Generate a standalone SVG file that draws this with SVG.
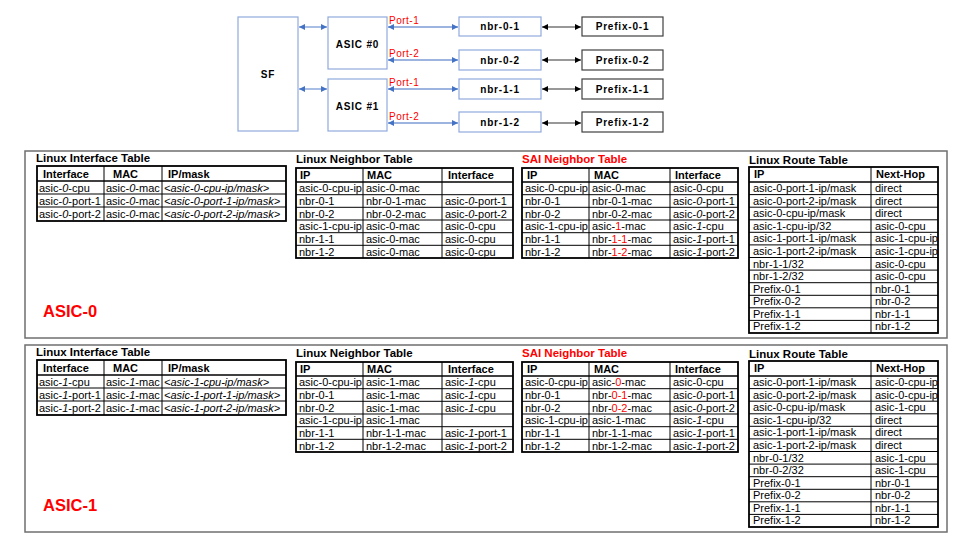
<svg xmlns="http://www.w3.org/2000/svg" width="960" height="540" viewBox="0 0 960 540">
<style>
text{font-family:"Liberation Sans",Arial,sans-serif;fill:#000}
.t{font-size:11px}
.h{font-size:11px;font-weight:bold}
.ttl{font-size:11.5px;font-weight:bold}
.i{font-style:italic}
.r{fill:#f00}
.nb{fill:#fff;stroke:#8FAADC;stroke-width:1.2}
.pb{fill:#fff;stroke:#404040;stroke-width:1.2}
.nl{font-size:10px;font-weight:bold;letter-spacing:0.8px;text-anchor:middle}
.port{font-size:10px;fill:#f00;letter-spacing:0.5px}
.bl{stroke:#7B9BD5;stroke-width:1.3;marker-start:url(#ab);marker-end:url(#ab)}
.kl{stroke:#333;stroke-width:1.2;marker-start:url(#ak);marker-end:url(#ak)}
.panel{fill:none;stroke:#6f6f6f;stroke-width:1.5}
.outer{fill:none;stroke:#000;stroke-width:1.8}
.g{stroke:#000;stroke-width:1}
.gh{stroke:#000;stroke-width:1.6}
.big{font-size:16.5px;font-weight:bold;fill:#f00}
</style>
<defs>
<marker id="ab" viewBox="0 0 10 10" refX="10" refY="5" markerWidth="7" markerHeight="6" markerUnits="userSpaceOnUse" orient="auto-start-reverse"><path d="M0,0 L10,5 L0,10 z" fill="#4472C4"/></marker>
<marker id="ak" viewBox="0 0 10 10" refX="10" refY="5" markerWidth="7" markerHeight="6" markerUnits="userSpaceOnUse" orient="auto-start-reverse"><path d="M0,0 L10,5 L0,10 z" fill="#000"/></marker>
</defs>
<rect width="960" height="540" fill="#fff"/>

<g id="connectors">
<line class="bl" x1="299" y1="27" x2="327" y2="27"/>
<line class="bl" x1="299" y1="89" x2="327" y2="89"/>
<line class="bl" x1="388" y1="27" x2="458" y2="27"/>
<line class="bl" x1="388" y1="60" x2="458" y2="60"/>
<line class="bl" x1="388" y1="89" x2="458" y2="89"/>
<line class="bl" x1="388" y1="123" x2="458" y2="123"/>
<line class="kl" x1="542" y1="27" x2="581" y2="27"/>
<line class="kl" x1="542" y1="60" x2="581" y2="60"/>
<line class="kl" x1="542" y1="89" x2="581" y2="89"/>
<line class="kl" x1="542" y1="123" x2="581" y2="123"/>
<text class="port" x="389" y="24">Port-1</text>
<text class="port" x="389" y="57">Port-2</text>
<text class="port" x="389" y="86">Port-1</text>
<text class="port" x="389" y="120">Port-2</text>
</g>

<g id="sf"><rect class="nb" x="238" y="17" width="60" height="114"/><text class="nl" x="268" y="78">SF</text></g>
<g id="asic0"><rect class="nb" x="328" y="17" width="59" height="52"/><text class="nl" x="357.5" y="48">ASIC #0</text></g>
<g id="asic1"><rect class="nb" x="328" y="79" width="59" height="52"/><text class="nl" x="357.5" y="110">ASIC #1</text></g>
<g id="nbr01"><rect class="nb" x="459" y="17" width="82" height="19"/><text class="nl" x="500" y="30">nbr-0-1</text></g>
<g id="nbr02"><rect class="nb" x="459" y="50" width="82" height="20"/><text class="nl" x="500" y="63.5">nbr-0-2</text></g>
<g id="nbr11"><rect class="nb" x="459" y="79" width="82" height="20"/><text class="nl" x="500" y="92.5">nbr-1-1</text></g>
<g id="nbr12"><rect class="nb" x="459" y="112" width="82" height="20"/><text class="nl" x="500" y="125.5">nbr-1-2</text></g>
<g id="prefix01"><rect class="pb" x="582" y="17" width="81" height="19"/><text class="nl" x="622.5" y="30">Prefix-0-1</text></g>
<g id="prefix02"><rect class="pb" x="582" y="50" width="81" height="20"/><text class="nl" x="622.5" y="63.5">Prefix-0-2</text></g>
<g id="prefix11"><rect class="pb" x="582" y="79" width="81" height="20"/><text class="nl" x="622.5" y="92.5">Prefix-1-1</text></g>
<g id="prefix12"><rect class="pb" x="582" y="112" width="81" height="20"/><text class="nl" x="622.5" y="125.5">Prefix-1-2</text></g>

<!-- ASIC-0 panel -->
<g id="panel-asic0">
<rect class="panel" x="25" y="151" width="922" height="187"/>
<text class="big" x="43" y="317">ASIC-0</text>

<g id="a0-if">
<text class="ttl" x="36" y="162">Linux Interface Table</text>
<rect class="outer" x="37" y="166" width="249" height="55"/>
<line class="gh" x1="37" y1="181" x2="286" y2="181"/>
<line class="g" x1="37" y1="194" x2="286" y2="194"/>
<line class="g" x1="37" y1="207" x2="286" y2="207"/>
<line class="g" x1="104" y1="166" x2="104" y2="221"/>
<line class="g" x1="162" y1="166" x2="162" y2="221"/>
<text class="h" x="43" y="177.5">Interface</text><text class="h" x="113" y="177.5">MAC</text><text class="h" x="168" y="177.5">IP/mask</text>
<text class="t" x="39" y="191.5">asic-<tspan class="i">0</tspan>-cpu</text><text class="t" x="106" y="191.5">asic-<tspan class="i">0</tspan>-mac</text><text class="t i" x="164" y="191.5">&lt;asic-0-cpu-ip/mask&gt;</text>
<text class="t" x="39" y="204.5">asic-<tspan class="i">0</tspan>-port-1</text><text class="t" x="106" y="204.5">asic-<tspan class="i">0</tspan>-mac</text><text class="t i" x="164" y="204.5">&lt;asic-0-port-1-ip/mask&gt;</text>
<text class="t" x="39" y="217.5">asic-<tspan class="i">0</tspan>-port-2</text><text class="t" x="106" y="217.5">asic-<tspan class="i">0</tspan>-mac</text><text class="t i" x="164" y="217.5">&lt;asic-0-port-2-ip/mask&gt;</text>
</g>

<g id="a0-nbr">
<text class="ttl" x="296" y="163">Linux Neighbor Table</text>
<rect class="outer" x="296" y="168" width="217" height="90"/>
<line class="gh" x1="296" y1="182" x2="513" y2="182"/>
<line class="g" x1="296" y1="194.7" x2="513" y2="194.7"/>
<line class="g" x1="296" y1="207.3" x2="513" y2="207.3"/>
<line class="g" x1="296" y1="220" x2="513" y2="220"/>
<line class="g" x1="296" y1="232.7" x2="513" y2="232.7"/>
<line class="g" x1="296" y1="245.3" x2="513" y2="245.3"/>
<line class="g" x1="363" y1="168" x2="363" y2="258"/>
<line class="g" x1="442" y1="168" x2="442" y2="258"/>
<text class="h" x="300" y="179">IP</text><text class="h" x="367" y="179">MAC</text><text class="h" x="448" y="179">Interface</text>
<text class="t" x="299" y="192">asic-0-cpu-ip</text><text class="t" x="366" y="192">asic-0-mac</text>
<text class="t" x="299" y="205">nbr-0-1</text><text class="t" x="366" y="205">nbr-0-1-mac</text><text class="t" x="445" y="205">asic-<tspan class="i">0</tspan>-port-1</text>
<text class="t" x="299" y="217.5">nbr-0-2</text><text class="t" x="366" y="217.5">nbr-0-2-mac</text><text class="t" x="445" y="217.5">asic-<tspan class="i">0</tspan>-port-2</text>
<text class="t" x="299" y="230">asic-1-cpu-ip</text><text class="t" x="366" y="230">asic-0-mac</text><text class="t" x="445" y="230">asic-0-cpu</text>
<text class="t" x="299" y="243">nbr-1-1</text><text class="t" x="366" y="243">asic-0-mac</text><text class="t" x="445" y="243">asic-0-cpu</text>
<text class="t" x="299" y="255.5">nbr-1-2</text><text class="t" x="366" y="255.5">asic-0-mac</text><text class="t" x="445" y="255.5">asic-0-cpu</text>
</g>

<g id="a0-sai">
<text class="ttl r" x="522" y="163">SAI Neighbor Table</text>
<rect class="outer" x="522" y="168" width="216" height="90"/>
<line class="gh" x1="522" y1="182" x2="738" y2="182"/>
<line class="g" x1="522" y1="194.7" x2="738" y2="194.7"/>
<line class="g" x1="522" y1="207.3" x2="738" y2="207.3"/>
<line class="g" x1="522" y1="220" x2="738" y2="220"/>
<line class="g" x1="522" y1="232.7" x2="738" y2="232.7"/>
<line class="g" x1="522" y1="245.3" x2="738" y2="245.3"/>
<line class="g" x1="589" y1="168" x2="589" y2="258"/>
<line class="g" x1="670" y1="168" x2="670" y2="258"/>
<text class="h" x="527" y="179">IP</text><text class="h" x="594" y="179">MAC</text><text class="h" x="675" y="179">Interface</text>
<text class="t" x="525" y="192">asic-0-cpu-ip</text><text class="t" x="592" y="192">asic-0-mac</text><text class="t" x="673" y="192">asic-0-cpu</text>
<text class="t" x="525" y="205">nbr-0-1</text><text class="t" x="592" y="205">nbr-0-1-mac</text><text class="t" x="673" y="205">asic-<tspan class="i">0</tspan>-port-1</text>
<text class="t" x="525" y="217.5">nbr-0-2</text><text class="t" x="592" y="217.5">nbr-0-2-mac</text><text class="t" x="673" y="217.5">asic-<tspan class="i">0</tspan>-port-2</text>
<text class="t" x="525" y="230">asic-1-cpu-ip</text><text class="t" x="592" y="230">asic-<tspan class="r">1</tspan>-mac</text><text class="t" x="673" y="230">asic-<tspan class="i">1</tspan>-cpu</text>
<text class="t" x="525" y="243">nbr-1-1</text><text class="t" x="592" y="243">nbr-<tspan class="r">1-1</tspan>-mac</text><text class="t" x="673" y="243">asic-<tspan class="i">1</tspan>-port-1</text>
<text class="t" x="525" y="255.5">nbr-1-2</text><text class="t" x="592" y="255.5">nbr-<tspan class="r">1-2</tspan>-mac</text><text class="t" x="673" y="255.5">asic-<tspan class="i">1</tspan>-port-2</text>
</g>

<g id="a0-route">
<text class="ttl" x="749" y="164">Linux Route Table</text>
<rect class="outer" x="749" y="167" width="189" height="166"/>
<line class="gh" x1="749" y1="182" x2="938" y2="182"/>
<line class="g" x1="749" y1="194.6" x2="938" y2="194.6"/>
<line class="g" x1="749" y1="207.2" x2="938" y2="207.2"/>
<line class="g" x1="749" y1="219.8" x2="938" y2="219.8"/>
<line class="g" x1="749" y1="232.3" x2="938" y2="232.3"/>
<line class="g" x1="749" y1="244.9" x2="938" y2="244.9"/>
<line class="g" x1="749" y1="257.5" x2="938" y2="257.5"/>
<line class="g" x1="749" y1="270.1" x2="938" y2="270.1"/>
<line class="g" x1="749" y1="282.7" x2="938" y2="282.7"/>
<line class="g" x1="749" y1="295.3" x2="938" y2="295.3"/>
<line class="g" x1="749" y1="307.8" x2="938" y2="307.8"/>
<line class="g" x1="749" y1="320.4" x2="938" y2="320.4"/>
<line class="g" x1="871" y1="167" x2="871" y2="333"/>
<text class="h" x="754" y="178">IP</text><text class="h" x="876" y="178">Next-Hop</text>
<text class="t" x="753" y="192">asic-0-port-1-ip/mask</text><text class="t" x="875" y="192">direct</text>
<text class="t" x="753" y="204.6">asic-0-port-2-ip/mask</text><text class="t" x="875" y="204.6">direct</text>
<text class="t" x="753" y="217.2">asic-0-cpu-ip/mask</text><text class="t" x="875" y="217.2">direct</text>
<text class="t" x="753" y="229.8">asic-1-cpu-ip/32</text><text class="t" x="875" y="229.8">asic-0-cpu</text>
<text class="t" x="753" y="242.3">asic-1-port-1-ip/mask</text><text class="t" x="875" y="242.3">asic-1-cpu-ip</text>
<text class="t" x="753" y="254.9">asic-1-port-2-ip/mask</text><text class="t" x="875" y="254.9">asic-1-cpu-ip</text>
<text class="t" x="753" y="267.5">nbr-1-1/32</text><text class="t" x="875" y="267.5">asic-0-cpu</text>
<text class="t" x="753" y="280.1">nbr-1-2/32</text><text class="t" x="875" y="280.1">asic-0-cpu</text>
<text class="t" x="753" y="292.7">Prefix-0-1</text><text class="t" x="875" y="292.7">nbr-0-1</text>
<text class="t" x="753" y="305.3">Prefix-0-2</text><text class="t" x="875" y="305.3">nbr-0-2</text>
<text class="t" x="753" y="317.8">Prefix-1-1</text><text class="t" x="875" y="317.8">nbr-1-1</text>
<text class="t" x="753" y="330.4">Prefix-1-2</text><text class="t" x="875" y="330.4">nbr-1-2</text>
</g>
</g>

<!-- ASIC-1 panel -->
<g id="panel-asic1" transform="translate(0,194)">
<rect class="panel" x="25" y="151" width="922" height="187"/>
<text class="big" x="43" y="317">ASIC-1</text>

<g id="a1-if">
<text class="ttl" x="36" y="162">Linux Interface Table</text>
<rect class="outer" x="37" y="166" width="249" height="55"/>
<line class="gh" x1="37" y1="181" x2="286" y2="181"/>
<line class="g" x1="37" y1="194" x2="286" y2="194"/>
<line class="g" x1="37" y1="207" x2="286" y2="207"/>
<line class="g" x1="104" y1="166" x2="104" y2="221"/>
<line class="g" x1="162" y1="166" x2="162" y2="221"/>
<text class="h" x="43" y="177.5">Interface</text><text class="h" x="113" y="177.5">MAC</text><text class="h" x="168" y="177.5">IP/mask</text>
<text class="t" x="39" y="191.5">asic-<tspan class="i">1</tspan>-cpu</text><text class="t" x="106" y="191.5">asic-<tspan class="i">1</tspan>-mac</text><text class="t i" x="164" y="191.5">&lt;asic-1-cpu-ip/mask&gt;</text>
<text class="t" x="39" y="204.5">asic-<tspan class="i">1</tspan>-port-1</text><text class="t" x="106" y="204.5">asic-<tspan class="i">1</tspan>-mac</text><text class="t i" x="164" y="204.5">&lt;asic-1-port-1-ip/mask&gt;</text>
<text class="t" x="39" y="217.5">asic-<tspan class="i">1</tspan>-port-2</text><text class="t" x="106" y="217.5">asic-<tspan class="i">1</tspan>-mac</text><text class="t i" x="164" y="217.5">&lt;asic-1-port-2-ip/mask&gt;</text>
</g>

<g id="a1-nbr">
<text class="ttl" x="296" y="163">Linux Neighbor Table</text>
<rect class="outer" x="296" y="168" width="217" height="90"/>
<line class="gh" x1="296" y1="182" x2="513" y2="182"/>
<line class="g" x1="296" y1="194.7" x2="513" y2="194.7"/>
<line class="g" x1="296" y1="207.3" x2="513" y2="207.3"/>
<line class="g" x1="296" y1="220" x2="513" y2="220"/>
<line class="g" x1="296" y1="232.7" x2="513" y2="232.7"/>
<line class="g" x1="296" y1="245.3" x2="513" y2="245.3"/>
<line class="g" x1="363" y1="168" x2="363" y2="258"/>
<line class="g" x1="442" y1="168" x2="442" y2="258"/>
<text class="h" x="300" y="179">IP</text><text class="h" x="367" y="179">MAC</text><text class="h" x="448" y="179">Interface</text>
<text class="t" x="299" y="192">asic-0-cpu-ip</text><text class="t" x="366" y="192">asic-1-mac</text><text class="t" x="445" y="192">asic-<tspan class="i">1</tspan>-cpu</text>
<text class="t" x="299" y="205">nbr-0-1</text><text class="t" x="366" y="205">asic-1-mac</text><text class="t" x="445" y="205">asic-<tspan class="i">1</tspan>-cpu</text>
<text class="t" x="299" y="217.5">nbr-0-2</text><text class="t" x="366" y="217.5">asic-1-mac</text><text class="t" x="445" y="217.5">asic-<tspan class="i">1</tspan>-cpu</text>
<text class="t" x="299" y="230">asic-1-cpu-ip</text><text class="t" x="366" y="230">asic-1-mac</text>
<text class="t" x="299" y="243">nbr-1-1</text><text class="t" x="366" y="243">nbr-1-1-mac</text><text class="t" x="445" y="243">asic-<tspan class="i">1</tspan>-port-1</text>
<text class="t" x="299" y="255.5">nbr-1-2</text><text class="t" x="366" y="255.5">nbr-1-2-mac</text><text class="t" x="445" y="255.5">asic-<tspan class="i">1</tspan>-port-2</text>
</g>

<g id="a1-sai">
<text class="ttl r" x="522" y="163">SAI Neighbor Table</text>
<rect class="outer" x="522" y="168" width="216" height="90"/>
<line class="gh" x1="522" y1="182" x2="738" y2="182"/>
<line class="g" x1="522" y1="194.7" x2="738" y2="194.7"/>
<line class="g" x1="522" y1="207.3" x2="738" y2="207.3"/>
<line class="g" x1="522" y1="220" x2="738" y2="220"/>
<line class="g" x1="522" y1="232.7" x2="738" y2="232.7"/>
<line class="g" x1="522" y1="245.3" x2="738" y2="245.3"/>
<line class="g" x1="589" y1="168" x2="589" y2="258"/>
<line class="g" x1="670" y1="168" x2="670" y2="258"/>
<text class="h" x="527" y="179">IP</text><text class="h" x="594" y="179">MAC</text><text class="h" x="675" y="179">Interface</text>
<text class="t" x="525" y="192">asic-0-cpu-ip</text><text class="t" x="592" y="192">asic-<tspan class="r">0</tspan>-mac</text><text class="t" x="673" y="192">asic-0-cpu</text>
<text class="t" x="525" y="205">nbr-0-1</text><text class="t" x="592" y="205">nbr-<tspan class="r">0-1</tspan>-mac</text><text class="t" x="673" y="205">asic-<tspan class="i">0</tspan>-port-1</text>
<text class="t" x="525" y="217.5">nbr-0-2</text><text class="t" x="592" y="217.5">nbr-<tspan class="r">0-2</tspan>-mac</text><text class="t" x="673" y="217.5">asic-<tspan class="i">0</tspan>-port-2</text>
<text class="t" x="525" y="230">asic-1-cpu-ip</text><text class="t" x="592" y="230">asic-1-mac</text><text class="t" x="673" y="230">asic-<tspan class="i">1</tspan>-cpu</text>
<text class="t" x="525" y="243">nbr-1-1</text><text class="t" x="592" y="243">nbr-1-1-mac</text><text class="t" x="673" y="243">asic-<tspan class="i">1</tspan>-port-1</text>
<text class="t" x="525" y="255.5">nbr-1-2</text><text class="t" x="592" y="255.5">nbr-1-2-mac</text><text class="t" x="673" y="255.5">asic-<tspan class="i">1</tspan>-port-2</text>
</g>

<g id="a1-route">
<text class="ttl" x="749" y="164">Linux Route Table</text>
<rect class="outer" x="749" y="167" width="189" height="166"/>
<line class="gh" x1="749" y1="182" x2="938" y2="182"/>
<line class="g" x1="749" y1="194.6" x2="938" y2="194.6"/>
<line class="g" x1="749" y1="207.2" x2="938" y2="207.2"/>
<line class="g" x1="749" y1="219.8" x2="938" y2="219.8"/>
<line class="g" x1="749" y1="232.3" x2="938" y2="232.3"/>
<line class="g" x1="749" y1="244.9" x2="938" y2="244.9"/>
<line class="g" x1="749" y1="257.5" x2="938" y2="257.5"/>
<line class="g" x1="749" y1="270.1" x2="938" y2="270.1"/>
<line class="g" x1="749" y1="282.7" x2="938" y2="282.7"/>
<line class="g" x1="749" y1="295.3" x2="938" y2="295.3"/>
<line class="g" x1="749" y1="307.8" x2="938" y2="307.8"/>
<line class="g" x1="749" y1="320.4" x2="938" y2="320.4"/>
<line class="g" x1="871" y1="167" x2="871" y2="333"/>
<text class="h" x="754" y="178">IP</text><text class="h" x="876" y="178">Next-Hop</text>
<text class="t" x="753" y="192">asic-0-port-1-ip/mask</text><text class="t" x="875" y="192">asic-0-cpu-ip</text>
<text class="t" x="753" y="204.6">asic-0-port-2-ip/mask</text><text class="t" x="875" y="204.6">asic-0-cpu-ip</text>
<text class="t" x="753" y="217.2">asic-0-cpu-ip/mask</text><text class="t" x="875" y="217.2">asic-1-cpu</text>
<text class="t" x="753" y="229.8">asic-1-cpu-ip/32</text><text class="t" x="875" y="229.8">direct</text>
<text class="t" x="753" y="242.3">asic-1-port-1-ip/mask</text><text class="t" x="875" y="242.3">direct</text>
<text class="t" x="753" y="254.9">asic-1-port-2-ip/mask</text><text class="t" x="875" y="254.9">direct</text>
<text class="t" x="753" y="267.5">nbr-0-1/32</text><text class="t" x="875" y="267.5">asic-1-cpu</text>
<text class="t" x="753" y="280.1">nbr-0-2/32</text><text class="t" x="875" y="280.1">asic-1-cpu</text>
<text class="t" x="753" y="292.7">Prefix-0-1</text><text class="t" x="875" y="292.7">nbr-0-1</text>
<text class="t" x="753" y="305.3">Prefix-0-2</text><text class="t" x="875" y="305.3">nbr-0-2</text>
<text class="t" x="753" y="317.8">Prefix-1-1</text><text class="t" x="875" y="317.8">nbr-1-1</text>
<text class="t" x="753" y="330.4">Prefix-1-2</text><text class="t" x="875" y="330.4">nbr-1-2</text>
</g>
</g>
</svg>
